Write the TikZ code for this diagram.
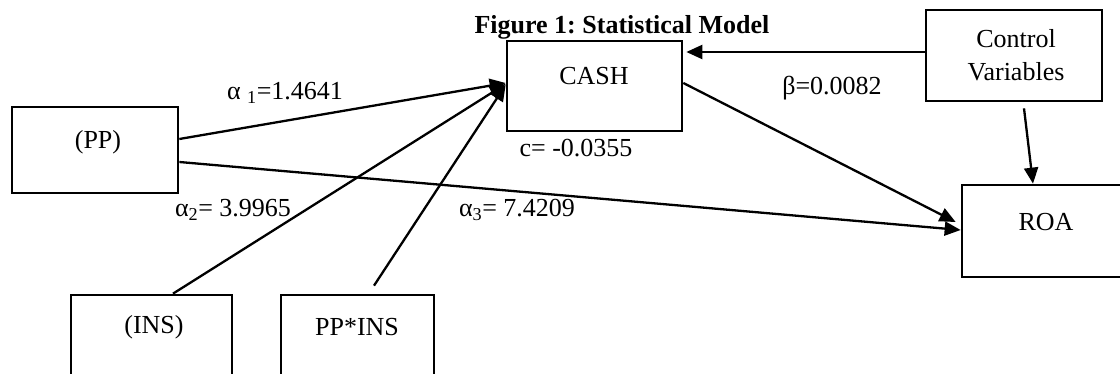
\documentclass[tikz,border=0pt]{standalone}
\usepackage{fontspec}
\setmainfont{Liberation Serif}
\usetikzlibrary{arrows.meta}
\begin{document}
\frenchspacing
\begin{tikzpicture}[x=1pt,y=-1pt,
  every node/.style={font=\fontsize{26}{33}\selectfont, inner sep=0pt},
  box/.style={draw, line width=2.7pt, inner sep=0pt},
  conn/.style={line width=2.3pt, -{Triangle[length=16pt,width=14pt]}}]
\useasboundingbox (0,0) rectangle (1120,374);
% boxes
\node[box, minimum width=166pt, minimum height=86pt] (pp) at (95,150) {};
\node[box, minimum width=175pt, minimum height=90pt] (cash) at (594.5,86) {};
\node[box, minimum width=176pt, minimum height=91pt] (ctrl) at (1014,55.5) {};
\node[box, minimum width=168pt, minimum height=92pt] (roa) at (1046,231) {};
\node[box, minimum width=161pt, minimum height=90pt] (ins) at (151.5,340) {};
\node[box, minimum width=153pt, minimum height=90pt] (ppins) at (357.5,340) {};
% box texts
\node (pptxt) at (98,142) {(PP)};
\node (cashtxt) at (594,76) {CASH};
\node[align=center] (ctrltxt) at (1016,55.5) {Control\\Variables};
\node (roatxt) at (1046,222) {ROA};
\node (instxt) at (154,327) {(INS)};
\node (ppinstxt) at (357,327) {PP*INS};
% title
\node[font=\bfseries\fontsize{26}{30}\selectfont] (title) at (622,27) {Figure 1: Statistical Model};
% connectors
\draw[conn] ([yshift=11pt]pp.east) -- ([yshift=3pt]cash.west);
\draw[conn] ([xshift=21.5pt]ins.north) -- ([yshift=2pt]cash.west);
\draw[conn] ([xshift=16.5pt,yshift=8pt]ppins.north) -- ([yshift=1pt]cash.west);
\draw[conn] ([yshift=-12pt]pp.east) -- ([yshift=1pt]roa.west);
\draw[conn] ([yshift=3pt]cash.east) -- ([xshift=-5pt,yshift=9pt]roa.west);
\draw[conn] ([yshift=3.5pt]ctrl.west) -- ([xshift=3pt,yshift=34pt]cash.east);
\draw[conn] ([xshift=10pt,yshift=-6pt]ctrl.south) -- ([xshift=-13pt]roa.north);
% labels
\node (a1) at (285,93) {α \textsubscript{1}=1.4641};
\node (cl) at (576,148) {c= -0.0355};
\node (bl) at (832,88) {β=0.0082};
\node (a2) at (233,210) {α\textsubscript{2}= 3.9965};
\node (a3) at (517,210) {α\textsubscript{3}= 7.4209};
\end{tikzpicture}
\end{document}
